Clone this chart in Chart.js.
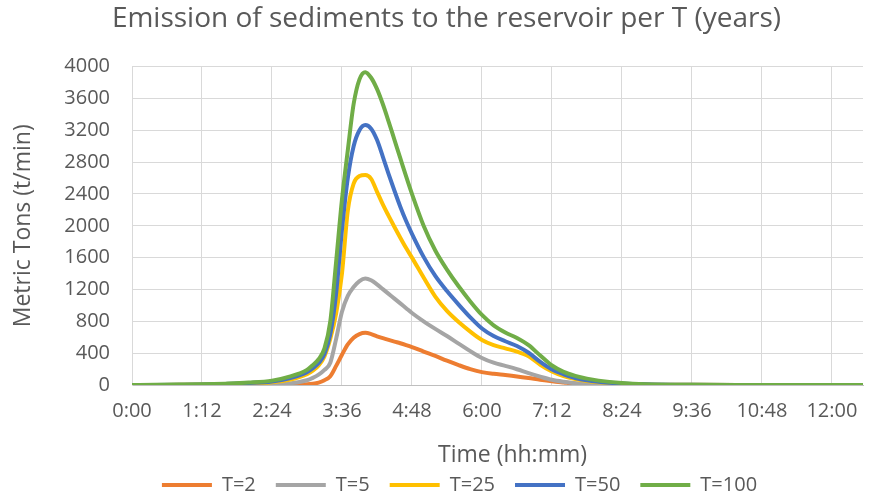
<!DOCTYPE html>
<html><head><meta charset="utf-8">
<script src="https://cdn.jsdelivr.net/npm/chart.js@4.4.0/dist/chart.umd.min.js"></script>
<style>html,body{margin:0;padding:0;background:#fff;}#wrap{width:880px;height:499px;}</style>
</head><body><div id="wrap"><canvas id="c" width="880" height="499"></canvas></div>
<script>
// time in minutes
const times = [0,24,48,72,96,120,144,162,180,186,192,198,204,210,216,222,228,234,240,246,252,258,264,270,276,282,288,300,312,324,336,348,360,372,384,396,408,420,432,444,456,468,480,504,528,576,624,672,720,752];
const seriesT2   = [0,0,0,0,0,0,0,2,8,15,30,60,110,240,380,510,595,640,655,640,612,588,566,545,525,502,477,420,365,305,250,200,162,140,125,108,88,66,47,32,18,10,5,1,0,0,0,0,0,0];
const seriesT5   = [0,0,0,1,2,4,6,20,60,90,130,190,280,580,920,1120,1230,1305,1337,1315,1265,1205,1145,1085,1025,965,905,800,705,615,520,425,340,280,240,198,150,105,65,40,22,12,6,2,1,0,0,0,0,0];
const seriesT25  = [0,1,2,5,10,18,35,65,135,180,245,360,580,900,1400,2190,2530,2625,2637,2590,2430,2270,2125,1985,1850,1720,1600,1350,1110,930,790,670,565,500,460,420,360,255,170,112,75,50,33,14,6,2,0,0,0,0];
const seriesT50  = [0,1,3,6,12,24,45,85,160,210,275,390,640,1150,1950,2600,3000,3200,3265,3220,3080,2870,2650,2440,2240,2060,1900,1610,1370,1180,1010,850,710,615,550,490,405,290,195,135,88,58,40,18,8,2,1,0,0,0];
const seriesT100 = [0,2,5,9,17,30,55,105,190,250,325,460,800,1550,2330,2950,3530,3840,3930,3860,3720,3530,3310,3080,2850,2620,2400,2000,1690,1450,1240,1050,880,750,660,590,500,370,245,165,115,80,55,25,10,3,1,0,0,0];
const seriesNames = ['T=2','T=5','T=25','T=50','T=100'];
const seriesColors = ['#ED7D31','#A5A5A5','#FFC000','#4472C4','#70AD47'];
const xMax = 752, xStep = 72, yMax = 4000, yStep = 400;
const chartTitle = 'Emission of sediments to the reservoir per T (years)';
const yTitle = 'Metric Tons (t/min)';
const xTitle = 'Time (hh:mm)';

const allSeries = [seriesT2, seriesT5, seriesT25, seriesT50, seriesT100];
const FONT = "'Open Sans', sans-serif";
Chart.defaults.font.family = FONT;
Chart.defaults.color = '#595959';

function fmt(v){ const h = Math.floor(v/60), m = Math.round(v%60); return h + ':' + String(m).padStart(2,'0'); }

const datasets = allSeries.map((s, i) => ({
  label: seriesNames[i],
  data: times.map((t, k) => ({x: t, y: s[k]})),
  borderColor: seriesColors[i],
  backgroundColor: seriesColors[i],
  borderWidth: 4,
  pointRadius: 0,
  cubicInterpolationMode: 'monotone',
  order: allSeries.length - i,
  borderCapStyle: 'round'
}));

const extraPlugin = {
  id: 'extra',
  afterLayout(chart){
    const l = chart.legend;
    l.left += 28; l.right += 28; l.top += 6; l.bottom += 6;
    const t = chart.titleBlock;
    t.left += 15; t.right += 15;
  },
  afterDraw(chart){
    const ctx = chart.ctx, a = chart.chartArea;
    ctx.save();
    ctx.font = "23px " + FONT;
    ctx.fillStyle = '#595959';
    ctx.textAlign = 'center';
    ctx.textBaseline = 'middle';
    ctx.fillText(xTitle, (a.left + a.right)/2 + 15, 455);
    ctx.restore();
  }
};

new Chart(document.getElementById('c'), {
  type: 'line',
  data: { datasets },
  plugins: [extraPlugin],
  options: {
    responsive: false,
    animation: false,
    layout: { padding: { left: 0, right: 17, top: 0, bottom: 0 } },
    plugins: {
      title: { display: true, text: chartTitle, font: { size: 28, weight: 'normal' }, color: '#595959', padding: { top: 2, bottom: 31 } },
      legend: {
        position: 'bottom',
        labels: {
          boxWidth: 50, boxHeight: 4, padding: 20, font: { size: 20 }, color: '#595959',
          sort: (a, b) => a.datasetIndex - b.datasetIndex,
          generateLabels(chart){
            const items = Chart.defaults.plugins.legend.labels.generateLabels(chart);
            items.forEach(it => { it.lineWidth = 0; it.fillStyle = seriesColors[it.datasetIndex]; });
            return items;
          }
        }
      },
      tooltip: { enabled: false }
    },
    scales: {
      x: {
        type: 'linear', min: 0, max: xMax,
        ticks: { stepSize: xStep, includeBounds: false, callback: v => fmt(v), font: { size: 20 }, color: '#595959', padding: 14, maxRotation: 0, autoSkip: false },
        grid: { color: '#D9D9D9', drawTicks: false },
        border: { color: '#BFBFBF', width: 1 },
        afterFit(s){ s.height = 64; }
      },
      y: {
        min: 0, max: yMax,
        ticks: { stepSize: yStep, font: { size: 20 }, color: '#595959', padding: 22, callback: v => String(v) },
        grid: { color: '#D9D9D9', drawTicks: false },
        border: { color: '#D9D9D9' },
        title: { display: true, text: yTitle, font: { size: 23 }, color: '#595959', padding: { top: 10, bottom: 0 } },
        afterFit(s){ s.width = 132; }
      }
    }
  }
});
</script></body></html>
